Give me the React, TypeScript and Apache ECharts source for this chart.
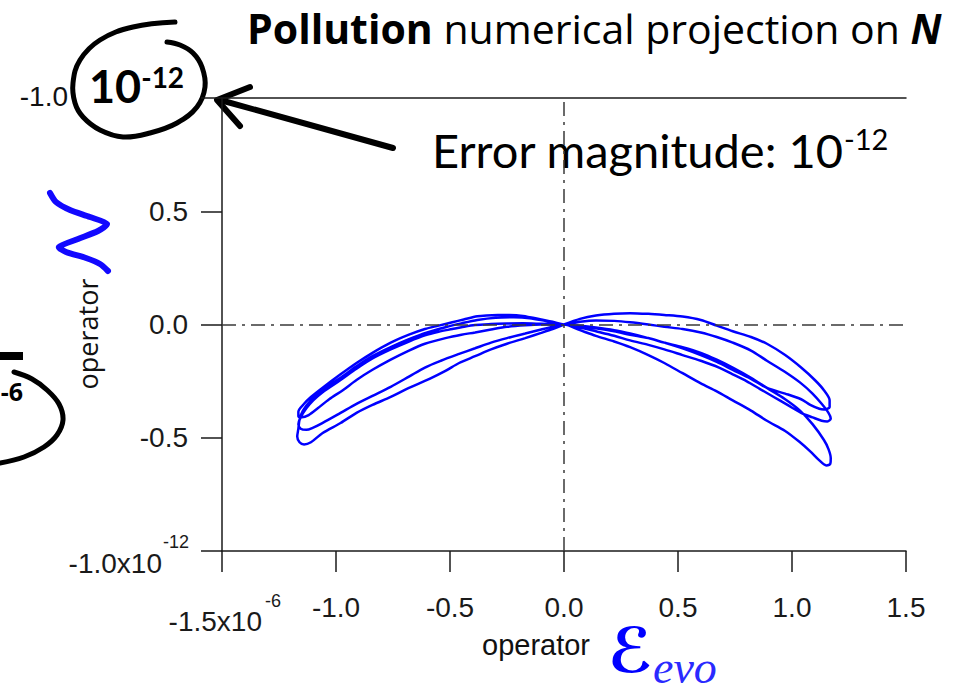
import React, { useEffect, useRef } from "react";
import * as echarts from "echarts";

// Axis ticks (x in 1e-6, y in 1e-12)
const xMin = -1.5;
const xMax = 1.5;
const xStep = 0.5;
const yMin = -1.0;
const yMax = 1.0;
const yStep = 0.5;

// Right-hand lobes
const lobeR1: [number, number][] = [
  [0, 0], [0.07, 0.025], [0.14, 0.04], [0.22, 0.048], [0.29, 0.05], [0.37, 0.047], [0.44, 0.042],
  [0.52, 0.035], [0.6, 0.02], [0.67, -0.005], [0.74, -0.03], [0.82, -0.055], [0.89, -0.085],
  [0.97, -0.135], [1.04, -0.19], [1.1, -0.245], [1.14, -0.29], [1.165, -0.335], [1.165, -0.365],
  [1.14, -0.375], [1.12, -0.372], [1.08, -0.355], [1.04, -0.33], [0.97, -0.305], [0.89, -0.28],
  [0.82, -0.24], [0.74, -0.2], [0.67, -0.165], [0.6, -0.135], [0.52, -0.105], [0.44, -0.08],
  [0.37, -0.06], [0.29, -0.04], [0.22, -0.025], [0.14, -0.013], [0.07, -0.005], [0, 0],
];
const lobeR2: [number, number][] = [
  [0, 0], [0.07, 0.012], [0.14, 0.018], [0.22, 0.016], [0.29, 0.01], [0.37, 0.0], [0.44, -0.01],
  [0.52, -0.02], [0.6, -0.035], [0.67, -0.055], [0.74, -0.08], [0.82, -0.115], [0.89, -0.16],
  [0.97, -0.21], [1.04, -0.26], [1.09, -0.305], [1.13, -0.35], [1.16, -0.39], [1.17, -0.415],
  [1.155, -0.428], [1.13, -0.425], [1.09, -0.41], [1.04, -0.39], [0.98, -0.355], [0.92, -0.32],
  [0.86, -0.285], [0.8, -0.25], [0.74, -0.22], [0.68, -0.19], [0.6, -0.16], [0.52, -0.135],
  [0.44, -0.11], [0.37, -0.09], [0.29, -0.07], [0.22, -0.05], [0.14, -0.03], [0.07, -0.013], [0, 0],
];
const lobeR3: [number, number][] = [
  [0, 0], [0.07, -0.025], [0.14, -0.05], [0.22, -0.075], [0.29, -0.1], [0.37, -0.135], [0.44, -0.17],
  [0.52, -0.215], [0.6, -0.26], [0.67, -0.295], [0.74, -0.335], [0.82, -0.38], [0.89, -0.425],
  [0.97, -0.47], [1.035, -0.52], [1.08, -0.56], [1.12, -0.6], [1.15, -0.622], [1.168, -0.615],
  [1.17, -0.59], [1.16, -0.55], [1.14, -0.51], [1.09, -0.44], [1.035, -0.38], [0.97, -0.33],
  [0.89, -0.28], [0.82, -0.235], [0.74, -0.19], [0.67, -0.155], [0.6, -0.125], [0.52, -0.1],
  [0.44, -0.08], [0.37, -0.06], [0.29, -0.045], [0.22, -0.03], [0.14, -0.017], [0.07, -0.007], [0, 0],
];

// Left-hand lobes
const lobeL1: [number, number][] = [
  [0, 0], [-0.05, 0.012], [-0.1, 0.022], [-0.18, 0.038], [-0.24, 0.042], [-0.29, 0.042], [-0.34, 0.04],
  [-0.38, 0.036], [-0.44, 0.022], [-0.49, 0.01], [-0.55, -0.005], [-0.61, -0.02], [-0.68, -0.045],
  [-0.76, -0.08], [-0.84, -0.125], [-0.91, -0.17], [-0.98, -0.22], [-1.06, -0.28], [-1.11, -0.32],
  [-1.14, -0.35], [-1.165, -0.385], [-1.165, -0.405], [-1.15, -0.41], [-1.12, -0.4], [-1.08, -0.37],
  [-1.03, -0.33], [-0.97, -0.29], [-0.91, -0.245], [-0.84, -0.2], [-0.76, -0.155], [-0.68, -0.115],
  [-0.61, -0.085], [-0.52, -0.06], [-0.45, -0.045], [-0.39, -0.035], [-0.32, -0.022], [-0.25, -0.01],
  [-0.17, -0.003], [-0.1, 0], [0, 0],
];
const lobeL2: [number, number][] = [
  [0, 0], [-0.1, 0.003], [-0.18, 0.005], [-0.25, 0.004], [-0.32, 0.002], [-0.39, -0.002], [-0.45, -0.012],
  [-0.49, -0.02], [-0.55, -0.032], [-0.61, -0.048], [-0.68, -0.075], [-0.76, -0.11], [-0.84, -0.15],
  [-0.91, -0.195], [-0.98, -0.245], [-1.06, -0.3], [-1.1, -0.335], [-1.13, -0.37], [-1.155, -0.41],
  [-1.165, -0.44], [-1.155, -0.46], [-1.13, -0.465], [-1.1, -0.455], [-1.06, -0.435], [-0.98, -0.39],
  [-0.91, -0.35], [-0.84, -0.315], [-0.76, -0.275], [-0.68, -0.23], [-0.61, -0.19], [-0.54, -0.16],
  [-0.46, -0.13], [-0.39, -0.105], [-0.32, -0.08], [-0.25, -0.06], [-0.17, -0.04], [-0.1, -0.022],
  [-0.03, -0.005], [0, 0],
];
const lobeL3: [number, number][] = [
  [0, 0], [-0.08, 0.015], [-0.15, 0.028], [-0.22, 0.032], [-0.3, 0.03], [-0.38, 0.02], [-0.45, 0.005],
  [-0.52, -0.012], [-0.6, -0.035], [-0.68, -0.065], [-0.76, -0.1], [-0.84, -0.14], [-0.91, -0.185],
  [-0.98, -0.235], [-1.06, -0.29], [-1.11, -0.335], [-1.145, -0.38], [-1.16, -0.42], [-1.165, -0.46],
  [-1.17, -0.495], [-1.16, -0.52], [-1.14, -0.53], [-1.11, -0.52], [-1.06, -0.48], [-0.98, -0.435],
  [-0.91, -0.39], [-0.84, -0.355], [-0.76, -0.32], [-0.68, -0.28], [-0.59, -0.24], [-0.52, -0.205],
  [-0.46, -0.17], [-0.39, -0.14], [-0.32, -0.11], [-0.25, -0.085], [-0.17, -0.06], [-0.1, -0.037],
  [-0.05, -0.02], [0, 0],
];

const trajectory = [...lobeR1, ...lobeL1, ...lobeR2, ...lobeL2, ...lobeR3, ...lobeL3];

const LABEL_FONT = "'Liberation Sans', Arial, sans-serif";
const NOTE_FONT = "'Open Sans', Lato, sans-serif";

export default function App() {
  const ref = useRef<HTMLDivElement>(null);

  useEffect(() => {
    if (!ref.current) return;
    const chart = echarts.init(ref.current, null, { renderer: "svg" });
    const axisColor = "#1a1a1a";
    chart.setOption({
      animation: false,
      backgroundColor: "#ffffff",
      grid: { left: 222, right: 57, top: 98, bottom: 140, containLabel: false },
      xAxis: [
        {
          type: "value",
          min: xMin,
          max: xMax,
          interval: xStep,
          position: "bottom",
          axisLine: { show: true, onZero: false, lineStyle: { color: axisColor, width: 1.5 } },
          axisTick: { show: true, inside: false, length: 21, lineStyle: { color: axisColor, width: 1.5 } },
          axisLabel: {
            margin: 42,
            fontSize: 28,
            fontFamily: LABEL_FONT,
            color: axisColor,
            formatter: (v: number) => (v === xMin ? "" : v.toFixed(1)),
          },
          splitLine: { show: false },
        },
        {
          type: "value",
          min: xMin,
          max: xMax,
          interval: xStep,
          position: "top",
          axisLine: { show: true, onZero: false, lineStyle: { color: axisColor, width: 1.5 } },
          axisTick: { show: false },
          axisLabel: { show: false },
          splitLine: { show: false },
        },
      ],
      yAxis: {
        type: "value",
        min: yMin,
        max: yMax,
        interval: yStep,
        axisLine: { show: true, onZero: false, lineStyle: { color: axisColor, width: 1.5 } },
        axisTick: { show: true, inside: false, length: 21, lineStyle: { color: axisColor, width: 1.5 } },
        axisLabel: {
          margin: 34,
          fontSize: 28,
          fontFamily: LABEL_FONT,
          color: axisColor,
          formatter: (v: number) => (v === yMin || v === yMax ? "" : v.toFixed(1)),
        },
        splitLine: { show: false },
      },
      series: [
        {
          type: "line",
          xAxisIndex: 0,
          yAxisIndex: 0,
          data: trajectory,
          smooth: 0.3,
          symbol: "none",
          lineStyle: { color: "#0000ff", width: 2.5 },
          markLine: {
            silent: true,
            symbol: ["none", "none"],
            label: { show: false },
            lineStyle: { color: "#3a3a3a", width: 1.5, type: [14, 6, 3, 6] },
            data: [{ xAxis: 0 }, { yAxis: 0 }],
          },
        },
      ],
    });

    const [bx, by] = chart.convertToPixel({ gridIndex: 0 }, [xMin, yMin]) as number[];

    chart.setOption({
      graphic: [
        // composite axis end labels
        {
          type: "text",
          x: bx - 60,
          y: by + 12,
          style: { text: "-1.0x10", fontSize: 28, fontFamily: LABEL_FONT, fill: axisColor, align: "right", verticalAlign: "middle" },
        },
        {
          type: "text",
          x: bx - 59,
          y: by - 9,
          style: { text: "-12", fontSize: 18, fontFamily: LABEL_FONT, fill: axisColor, align: "left", verticalAlign: "middle" },
        },
        {
          type: "text",
          x: bx + 40,
          y: by + 70,
          style: { text: "-1.5x10", fontSize: 28, fontFamily: LABEL_FONT, fill: axisColor, align: "right", verticalAlign: "middle" },
        },
        {
          type: "text",
          x: bx + 43,
          y: by + 50,
          style: { text: "-6", fontSize: 18, fontFamily: LABEL_FONT, fill: axisColor, align: "left", verticalAlign: "middle" },
        },
        // title
        {
          type: "text",
          x: 247,
          y: 28,
          style: {
            text: "{b|Pollution} numerical projection on {bi|N}",
            fontFamily: NOTE_FONT,
            fontSize: 41,
            fill: "#000",
            align: "left",
            verticalAlign: "middle",
            rich: {
              b: { fontFamily: NOTE_FONT, fontSize: 41, fontWeight: "bold", fill: "#000" },
              bi: { fontFamily: NOTE_FONT, fontSize: 41, fontWeight: "bold", fontStyle: "italic", fill: "#000" },
            },
          },
        },
        // Error magnitude note
        {
          type: "text",
          x: 432,
          y: 150,
          style: {
            text: "{m|Error magnitude: 10}{s|-12}",
            align: "left",
            verticalAlign: "middle",
            rich: {
              m: { fontFamily: "Lato, sans-serif", fontSize: 47, fill: "#000", lineHeight: 52 },
              s: { fontFamily: "Lato, sans-serif", fontSize: 29, fill: "#000", lineHeight: 29, verticalAlign: "top" },
            },
          },
        },
        // top-left annotation
        {
          type: "text",
          x: 68,
          y: 96,
          style: { text: "-1.0", fontSize: 28, fontFamily: LABEL_FONT, fill: "#111", align: "right", verticalAlign: "middle" },
        },
        {
          type: "text",
          x: 89,
          y: 86,
          style: {
            text: "{a|10}{b|-12}",
            align: "left",
            verticalAlign: "middle",
            rich: {
              a: { fontFamily: "Lato, sans-serif", fontSize: 45, fontWeight: "bold", fill: "#000", lineHeight: 46 },
              b: { fontFamily: "Lato, sans-serif", fontSize: 28, fontWeight: "bold", fill: "#000", lineHeight: 28, verticalAlign: "top" },
            },
          },
        },
        {
          type: "polyline",
          shape: {
            smooth: 0.4,
            points: [
              [175, 22], [133, 27], [100, 40], [80, 60], [73, 83], [75, 103], [83, 117], [100, 130],
              [123, 137], [150, 133], [177, 123], [197, 107], [205, 87], [202, 67], [193, 53], [180, 45], [167, 42],
            ],
          },
          style: { stroke: "#000", lineWidth: 5, fill: null, lineCap: "round", lineJoin: "round" },
        },
        // arrow
        {
          type: "line",
          shape: { x1: 393, y1: 148, x2: 220, y2: 100 },
          style: { stroke: "#000", lineWidth: 6, lineCap: "round" },
        },
        {
          type: "polyline",
          shape: { points: [[250, 87], [217, 100], [240, 126]] },
          style: { stroke: "#000", lineWidth: 6, fill: null, lineCap: "round", lineJoin: "round" },
        },
        // left partial annotation
        {
          type: "rect",
          shape: { x: 0, y: 352, width: 23, height: 8 },
          style: { fill: "#000" },
        },
        {
          type: "text",
          x: 23,
          y: 391,
          style: { text: "-6", fontSize: 25, fontWeight: "bold", fontFamily: NOTE_FONT, fill: "#000", align: "right", verticalAlign: "middle" },
        },
        {
          type: "polyline",
          shape: {
            smooth: 0.4,
            points: [[14, 372], [32, 379], [47, 390], [59, 404], [63, 420], [57, 435], [44, 447], [24, 457], [0, 463]],
          },
          style: { stroke: "#000", lineWidth: 5, fill: null, lineCap: "round" },
        },
        // y-axis name: operator N (script N drawn as a stroke)
        {
          type: "polyline",
          shape: {
            smooth: 0.25,
            points: [[50, 193], [56, 202], [70, 210], [90, 217], [107, 224], [98, 231], [78, 239], [59, 247], [66, 252], [86, 258], [100, 264], [108, 271]],
          },
          style: { stroke: "#1208ff", lineWidth: 6, fill: null, lineCap: "round", lineJoin: "round" },
        },
        {
          type: "text",
          x: 87,
          y: 334,
          rotation: Math.PI / 2,
          style: { text: "operator", fontSize: 27, fontFamily: "'Open Sans', sans-serif", fill: "#111", align: "center", verticalAlign: "middle" },
        },
        // x-axis name: operator E_evo
        {
          type: "text",
          x: 536,
          y: 645,
          style: { text: "operator", fontSize: 29, fontFamily: LABEL_FONT, fill: "#111", align: "center", verticalAlign: "middle" },
        },
        {
          type: "text",
          x: 608,
          y: 650,
          style: { text: "ℰ", fontSize: 62, fontWeight: "bold", fontStyle: "italic", fontFamily: "'DejaVu Serif', 'DejaVu Sans', serif", fill: "#0000ff", align: "left", verticalAlign: "middle" },
        },
        {
          type: "text",
          x: 653,
          y: 690,
          style: { text: "evo", fontSize: 46, fontStyle: "italic", fontFamily: "'Liberation Serif', serif", fill: "#2a2aff", align: "left", verticalAlign: "bottom" },
        },
      ],
    });

    return () => chart.dispose();
  }, []);

  return (
    <div
      ref={ref}
      style={{ position: "fixed", left: 0, top: 0, width: 963, height: 691, background: "#fff" }}
    />
  );
}
